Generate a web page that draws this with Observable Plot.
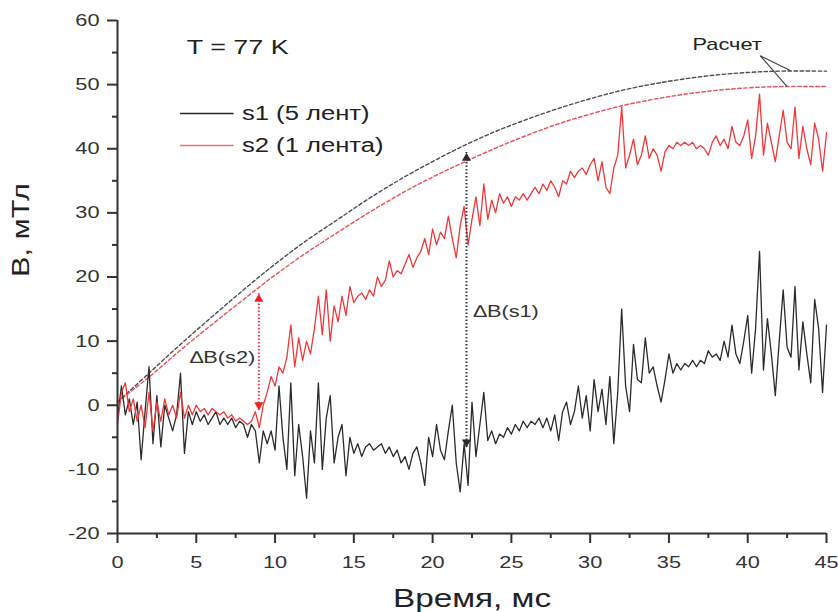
<!DOCTYPE html>
<html><head><meta charset="utf-8">
<script src="https://cdn.jsdelivr.net/npm/d3@7"></script>
<script src="https://cdn.jsdelivr.net/npm/@observablehq/plot@0.6"></script>
<style>body{margin:0;background:#fff}</style>
</head><body><div id="chart"></div>
<script>
// ---- data ----
const dt = 0.25; // ms between samples
const s1 = [
-2, 3, -1.5, 1,
-3, 0.5, -8.5, -1,
6, -6, 1.5, -6.5,
0, -2, -4, -1.5,
5, -7.5, -1, -3,
-1, -2.5, -1.5, -3,
-2, -1, -3, -2,
-3, -2, -3.5, -2.5,
-3, -5, -3, -4,
-9, -4, -6, -4,
-7, 3, -5, -10,
3.5, -11, -3, -8,
-14.5, -4, -9, 3.5,
-10, -2, 1.5, -9,
-5, -3, -11, -5,
-7.5, -6, -8, -6.5,
-6, -7, -6.5, -6,
-7.5, -6.5, -8, -7,
-9, -8, -10, -7.5,
-6.5, -9, -12.5, -5,
-8, -3, -7, -8.5,
-4, 0, -9, -13.5,
-6, -12.5, 0.5, -8,
-3, 2, -5.5, -4,
-6, -4.5, -5, -3.5,
-4.5, -3, -4, -2.5,
-3.5, -2.5, -3, -2,
-3.5, -2, -4, -1.5,
-5.5, -1, 0.5, -3,
-1, 3, -2, 1.5,
-4, 4, -1, 2.5,
-3, 4.5, -6, 2,
15, 3, -1, 9.5,
4, 3.5, 10.5, 5,
6, 3, 0.5, 4,
8, 5, 6.5, 5.5,
6.5, 6, 7, 6,
7, 6.5, 8.5, 7.5,
8, 7, 10, 7.5,
12.5, 8, 6.5, 10,
14, 5, 12, 24,
5.5, 13.5, 8, 1.5,
10, 18, 9, 7.5,
18.5, 5.5, 13, 8,
3.5, 16.5, 12, 2,
12.5];
const s2 = [
-3, 2, 3.5, -1,
1, -2.5, 0, -3.5,
2, -4, 0.5, -2.5,
1, -1.5, 0, -2,
2, -2, 0, -1.5,
0, -1, -0.5, -1.5,
-0.5, -1, -1.5, -1,
-2, -1.5, -2.5, -2,
-2.5, -3, -2.5, -1,
-3.5, 0, 2, 4.5,
3, 6, 5, 7.5,
12.5, 6, 10.5, 7,
10, 8, 12, 17,
11, 18, 10, 15.5,
13, 17, 14, 18.5,
16, 17, 17.5, 16.5,
18, 17, 20, 18.5,
19.5, 22.5, 20, 21,
20.5, 22, 23.5, 21.5,
23, 24, 26, 23.5,
27.5, 25, 27, 26,
29.5, 26, 23, 28,
31, 25, 29, 32.5,
28, 34.5, 29, 32,
30, 33, 31.5, 32.5,
31, 32.5, 32, 33,
32, 33, 34, 33,
34.5, 33.5, 35, 34,
32.5, 35, 34.5, 36.5,
35.5, 36.5, 37, 36,
37.5, 38.5, 35, 38,
34, 33, 37, 39,
46.5, 37, 39, 41.5,
37.5, 39, 42, 38.5,
40, 39, 36.5, 39.5,
40.5, 40, 41, 40.5,
41, 40.5, 41, 40,
40.5, 40, 39, 41,
42, 40.5, 41.5, 40,
43.5, 41, 40.5, 42,
44.5, 38.5, 42, 48.5,
39, 44, 41, 38,
42, 46, 41, 40,
46.5, 38.5, 43.5, 40,
37.5, 44, 41.5, 36.5,
42.5];
const calcTime = [0, 2, 4, 6, 8, 10, 12, 14, 16, 18, 20, 22, 24, 26, 28, 30, 32, 34, 36, 38, 40, 42, 45];
const calcS1 = [0.5, 5, 9.5, 13.8, 18, 22, 25.7, 29, 32.3, 35.3, 38, 40.5, 42.7, 44.6, 46.3, 47.8, 49.1, 50.1, 50.9, 51.5, 51.9, 52.1, 52.1];
const calcS2 = [0.5, 4.4, 8.6, 12.6, 16.5, 20.3, 23.8, 27, 30.1, 33, 35.6, 37.9, 40.1, 42.1, 43.9, 45.4, 46.7, 47.7, 48.5, 49.1, 49.5, 49.7, 49.7];
const xTicks = [0, 5, 10, 15, 20, 25, 30, 35, 40, 45];
const xMinor = [2.5, 7.5, 12.5, 17.5, 22.5, 27.5, 32.5, 37.5, 42.5];
const yTicks = [-20, -10, 0, 10, 20, 30, 40, 50, 60];
const yMinor = [-15, -5, 5, 15, 25, 35, 45, 55];
const seriesNames = ["s1 (5 лент)", "s2 (1 лента)"];
const deltaS1 = {t: 22.15, from: -6.6, to: 39.4, label: "∆B(s1)"};
const deltaS2 = {t: 8.97, from: -0.8, to: 17.4, label: "∆B(s2)"};
const tempLabel = "T = 77 K";
const calcLabel = "Расчет";
const xLabel = "Время, мс";
const yLabel = "B, мТл";

// ---- layout (annotation placement, in data units) ----
const legendPos = [{x1: 4.0, x2: 7.4, y: 45.5, tx: 7.9}, {x1: 4.0, x2: 7.4, y: 40.5, tx: 7.9}];
const tempPos = {x: 4.4, y: 55.9};
const calcPos = {x: 36.5, y: 56.2, lx: 40.8, ly: 54.5, e1x: 42.7, e1y: 52.2, e2x: 42.5, e2y: 49.7};
const dLabelPos = [{x: 22.6, y: 14.6}, {x: 4.6, y: 7.4}];

const BLACK = "#2b2b2b", RED = "#f0383a", BLACK_D = "#4d4d4d", RED_D = "#e8505a";
const s1Data = s1.map((v, i) => ({t: i * dt, b: v}));
const s2Data = s2.map((v, i) => ({t: i * dt, b: v}));
const calc1 = calcTime.map((t, i) => ({t, b: calcS1[i]}));
const calc2 = calcTime.map((t, i) => ({t, b: calcS2[i]}));
const arrows = [
  {...deltaS1, color: "#333a44", head: BLACK},
  {...deltaS2, color: RED, head: "#ee2222"}
];
const headOff = 0.85;
const fmt = d => String(d); // hyphen-minus as in the original

const plot = Plot.plot({
  width: 838, height: 612,
  marginLeft: 117, marginRight: 12, marginTop: 20, marginBottom: 79,
  style: {fontFamily: "'Liberation Sans', Arial, sans-serif", fontSize: "17px", color: "#333", background: "#fff"},
  x: {domain: [0, 45]},
  y: {domain: [-20, 60]},
  marks: [
    // calculated curves
    Plot.line(calc1, {x: "t", y: "b", curve: "catmull-rom", stroke: BLACK_D, strokeWidth: 1.4, strokeDasharray: "3.5,2.5"}),
    Plot.line(calc2, {x: "t", y: "b", curve: "catmull-rom", stroke: RED_D, strokeWidth: 1.4, strokeDasharray: "3.5,2.5"}),
    // measured signals
    Plot.line(s1Data, {x: "t", y: "b", stroke: BLACK, strokeWidth: 1.3}),
    Plot.line(s2Data, {x: "t", y: "b", stroke: RED, strokeWidth: 1.3}),
    // delta arrows
    Plot.ruleX(arrows, {x: "t", y1: "from", y2: "to", stroke: "color", strokeWidth: 2, strokeDasharray: "1.5,2"}),
    Plot.dot(arrows, {x: "t", y: d => d.to - headOff, symbol: "triangle", r: 3.4, fill: "head", stroke: null}),
    Plot.dot(arrows, {x: "t", y: d => d.from + headOff, symbol: "triangle", rotate: 180, r: 3.4, fill: "head", stroke: null}),
    Plot.text(arrows, {x: (d, i) => dLabelPos[i].x, y: (d, i) => dLabelPos[i].y, text: "label", textAnchor: "start", lineAnchor: "middle", fontSize: 17, fill: "#333"}),
    // legend
    Plot.ruleY(legendPos, {x1: "x1", x2: "x2", y: "y", stroke: (d, i) => [BLACK, "#f27070"][i], strokeWidth: 1.5}),
    Plot.text(legendPos, {x: "tx", y: "y", text: (d, i) => seriesNames[i], textAnchor: "start", lineAnchor: "middle", fontSize: 20, fill: "#222"}),
    // annotations
    Plot.text([tempLabel], {x: tempPos.x, y: tempPos.y, textAnchor: "start", lineAnchor: "middle", fontSize: 21, fill: "#222"}),
    Plot.text([calcLabel], {x: calcPos.x, y: calcPos.y, textAnchor: "start", lineAnchor: "middle", fontSize: 17, fill: "#222"}),
    Plot.link([calcPos], {x1: "lx", y1: "ly", x2: "e1x", y2: "e1y", stroke: "#444", strokeWidth: 1.2}),
    Plot.link([calcPos], {x1: "lx", y1: "ly", x2: "e2x", y2: "e2y", stroke: "#444", strokeWidth: 1.2}),
    // axes
    Plot.ruleX([0], {stroke: "#333", strokeWidth: 2}),
    Plot.ruleY([-20], {stroke: "#333", strokeWidth: 2}),
    Plot.axisY(yTicks, {tickSize: 10, tickPadding: 8, strokeWidth: 2, color: "#333", fontSize: 17, tickFormat: fmt, label: null}),
    Plot.axisY(yMinor, {tickSize: 5, strokeWidth: 2, color: "#333", tickFormat: () => "", label: null}),
    Plot.axisX(xTicks, {tickSize: 10, tickPadding: 12, strokeWidth: 2, color: "#333", fontSize: 17, tickFormat: fmt, label: null}),
    Plot.axisX(xMinor, {tickSize: 5, strokeWidth: 2, color: "#333", tickFormat: () => "", label: null}),
    Plot.text([yLabel], {frameAnchor: "left", dx: -96, rotate: -90, lineAnchor: "middle", fontSize: 24, fill: "#222"}),
    Plot.text([xLabel], {frameAnchor: "bottom", dy: 65, lineAnchor: "middle", fontSize: 26, fill: "#222"})
  ]
});
document.getElementById("chart").append(plot);
// glyphs in the reference are horizontally wide; widen text in its own frame
const S = 1.28;
plot.querySelectorAll("text").forEach(el => {
  const x = +el.getAttribute("x") || 0;
  const tr = el.getAttribute("transform") || "";
  el.setAttribute("transform", `${tr} translate(${x},0) scale(${S},1) translate(${-x},0)`);
});
</script></body></html>
